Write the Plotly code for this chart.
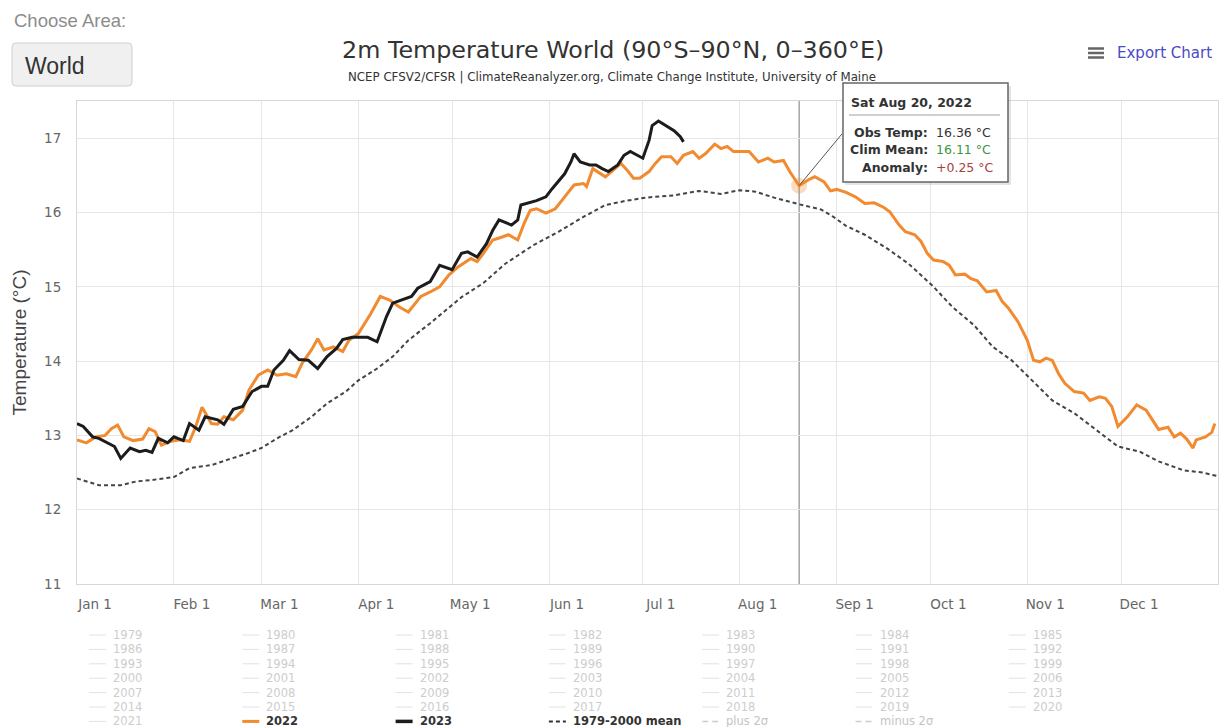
import plotly.graph_objects as go

# ---------------- data ----------------
month_ticks = [0, 31, 59, 90, 120, 151, 181, 212, 243, 273, 304, 334]
month_labels = ["Jan 1", "Feb 1", "Mar 1", "Apr 1", "May 1", "Jun 1",
                "Jul 1", "Aug 1", "Sep 1", "Oct 1", "Nov 1", "Dec 1"]
temp_ticks = [11, 12, 13, 14, 15, 16, 17]

days_2022 = [0, 3, 6, 9, 11, 13, 15, 18, 21, 23, 25, 27, 30, 33, 36, 38, 40, 43, 45, 47,
             50, 53, 55, 58, 61, 64, 67, 70, 72, 75, 77, 79, 82, 85, 87, 90, 94, 97, 100, 103,
             106, 110, 113, 116, 119, 122, 126, 128, 130, 133, 136, 138, 141, 143, 145, 147, 150, 153, 156, 159,
             162, 163, 165, 167, 169, 171, 174, 176, 178, 180, 183, 185, 187, 190, 192, 194, 197, 199, 201, 204,
             206, 208, 210, 212, 215, 218, 221, 223, 226, 228, 231, 234, 236, 239, 241, 243, 246, 249, 252, 255,
             258, 260, 263, 265, 268, 270, 272, 274, 277, 279, 281, 284, 286, 288, 291, 294, 296, 298, 301, 304,
             306, 308, 310, 312, 314, 316, 319, 322, 324, 327, 329, 331, 333, 336, 339, 342, 344, 346, 349, 351,
             353, 355, 357, 358, 361, 363, 364]
temp_2022 = [12.94, 12.90, 12.98, 13.00, 13.09, 13.14, 12.98, 12.93, 12.95, 13.09, 13.05, 12.87, 12.92, 12.94, 12.92, 13.12, 13.38, 13.16, 13.15, 13.25,
             13.21, 13.34, 13.61, 13.81, 13.88, 13.81, 13.83, 13.79, 13.97, 14.15, 14.30, 14.15, 14.19, 14.13, 14.28, 14.37, 14.64, 14.87, 14.82, 14.73,
             14.66, 14.87, 14.93, 15.00, 15.16, 15.27, 15.38, 15.34, 15.45, 15.63, 15.67, 15.70, 15.63, 15.85, 16.03, 16.05, 15.99, 16.05, 16.21, 16.37,
             16.39, 16.35, 16.59, 16.53, 16.48, 16.55, 16.66, 16.57, 16.46, 16.46, 16.55, 16.66, 16.75, 16.75, 16.66, 16.77, 16.82, 16.73, 16.79, 16.92,
             16.86, 16.89, 16.82, 16.82, 16.82, 16.68, 16.73, 16.68, 16.70, 16.55, 16.36, 16.44, 16.48, 16.41, 16.29, 16.31, 16.27, 16.21, 16.12, 16.13,
             16.07, 16.01, 15.83, 15.74, 15.70, 15.61, 15.45, 15.36, 15.34, 15.29, 15.16, 15.17, 15.11, 15.08, 14.93, 14.95, 14.80, 14.71, 14.53, 14.28,
             14.01, 13.99, 14.04, 14.01, 13.83, 13.70, 13.59, 13.57, 13.47, 13.52, 13.50, 13.39, 13.12, 13.25, 13.41, 13.34, 13.21, 13.08, 13.11, 12.98,
             13.03, 12.95, 12.83, 12.94, 12.98, 13.04, 13.16]

days_2023 = [0, 2, 5, 7, 12, 14, 17, 20, 22, 24, 26, 29, 31, 34, 36, 39, 41, 45, 47, 50,
             53, 56, 59, 61, 63, 66, 68, 71, 74, 77, 80, 83, 85, 88, 91, 93, 96, 99, 101, 104,
             107, 109, 113, 116, 120, 123, 125, 128, 131, 133, 135, 139, 141, 142, 144, 147, 150, 152, 156, 158,
             159, 161, 164, 166, 168, 170, 173, 175, 177, 179, 181, 183, 184, 186, 189, 191, 193, 194]
temp_2023 = [13.16, 13.12, 12.98, 12.96, 12.85, 12.69, 12.83, 12.78, 12.80, 12.77, 12.96, 12.90, 12.98, 12.93, 13.16, 13.07, 13.25, 13.21, 13.15, 13.35,
             13.39, 13.59, 13.66, 13.66, 13.88, 14.01, 14.14, 14.02, 14.01, 13.90, 14.06, 14.17, 14.29, 14.32, 14.32, 14.32, 14.26, 14.60, 14.78, 14.82,
             14.87, 14.98, 15.07, 15.29, 15.23, 15.45, 15.47, 15.40, 15.58, 15.76, 15.90, 15.83, 15.90, 16.10, 16.12, 16.16, 16.21, 16.32, 16.52, 16.68,
             16.79, 16.68, 16.64, 16.64, 16.59, 16.55, 16.64, 16.77, 16.82, 16.77, 16.73, 16.97, 17.17, 17.23, 17.15, 17.10, 17.02, 16.95]

days_mean = [0, 7, 14, 19, 24, 31, 36, 43, 48, 54, 59, 64, 69, 75, 80, 86, 90, 96, 101, 106,
             113, 118, 123, 130, 137, 146, 154, 162, 169, 176, 182, 191, 199, 206, 212, 217, 223, 231, 238, 242,
             246, 252, 259, 266, 274, 280, 287, 293, 299, 306, 312, 319, 326, 333, 340, 346, 354, 360, 365]
temp_mean = [12.42, 12.33, 12.33, 12.38, 12.40, 12.44, 12.56, 12.60, 12.67, 12.75, 12.83, 12.96, 13.07, 13.25, 13.43, 13.59, 13.74, 13.90, 14.06, 14.28,
             14.51, 14.68, 14.86, 15.05, 15.31, 15.56, 15.74, 15.94, 16.10, 16.16, 16.20, 16.23, 16.29, 16.25, 16.30, 16.28, 16.20, 16.11, 16.04, 15.94,
             15.82, 15.70, 15.52, 15.31, 15.00, 14.73, 14.48, 14.19, 14.01, 13.72, 13.47, 13.30, 13.07, 12.85, 12.78, 12.65, 12.53, 12.50, 12.45]

hover_day = 231
hover_label = "Sat Aug 20, 2022"
hover_obs = 16.36
hover_clim = 16.11

legend_labels = [str(y) for y in range(1979, 2022)] + ["2022", "2023", "1979-2000 mean", "plus 2σ", "minus 2σ"]

# ---------------- layout helpers ----------------
W, H = 1223, 727
L, R, T, B = 77, 5, 101, 143
PW = W - L - R
PH = H - T - B


def fx(px):
    return (px - L) / PW


def fy(py):
    return (H - B - py) / PH


ORANGE = "#F28A30"
BLACK = "#1c1c1c"
SANS = "DejaVu Sans"
ARIAL = "Liberation Sans"

annotations = []
shapes = []


def text(x, y, s, size, color, xanchor="left", family=SANS, yanchor="middle"):
    annotations.append(dict(x=fx(x), y=fy(y), xref="paper", yref="paper", text=s, showarrow=False,
                            xanchor=xanchor, yanchor=yanchor,
                            font=dict(size=size, color=color, family=family)))


def hline(x0, x1, y, color, width, dash="solid", layer="above"):
    shapes.append(dict(type="line", xref="paper", yref="paper", x0=fx(x0), x1=fx(x1), y0=fy(y), y1=fy(y),
                       line=dict(color=color, width=width, dash=dash), layer=layer))


# ---------------- traces ----------------
fig = go.Figure()
fig.add_trace(go.Scatter(x=days_mean, y=temp_mean, mode="lines", name="1979-2000 mean",
                         line=dict(color="#444444", width=2, dash="4px,3px"), showlegend=False))
fig.add_trace(go.Scatter(x=days_2022, y=temp_2022, mode="lines", name="2022",
                         line=dict(color=ORANGE, width=3), showlegend=False))
fig.add_trace(go.Scatter(x=days_2023, y=temp_2023, mode="lines", name="2023",
                         line=dict(color=BLACK, width=3), showlegend=False))
fig.add_trace(go.Scatter(x=[hover_day], y=[hover_obs], mode="markers",
                         marker=dict(size=16, color="rgba(242,138,48,0.3)"), showlegend=False, hoverinfo="skip"))

# crosshair
shapes.append(dict(type="line", xref="x", yref="paper", x0=hover_day, x1=hover_day, y0=0, y1=1,
                   line=dict(color="#777777", width=1), layer="between"))

# ---------------- header texts ----------------
text(12, 20, "Choose Area:", 18.5, "#8c8c8c", family=ARIAL)
r = 4
bx0, bx1, by0, by1 = 12, 132, 43, 86
path = (f"M {fx(bx0 + r)},{fy(by0)} L {fx(bx1 - r)},{fy(by0)} Q {fx(bx1)},{fy(by0)} {fx(bx1)},{fy(by0 + r)} "
        f"L {fx(bx1)},{fy(by1 - r)} Q {fx(bx1)},{fy(by1)} {fx(bx1 - r)},{fy(by1)} "
        f"L {fx(bx0 + r)},{fy(by1)} Q {fx(bx0)},{fy(by1)} {fx(bx0)},{fy(by1 - r)} "
        f"L {fx(bx0)},{fy(by0 + r)} Q {fx(bx0)},{fy(by0)} {fx(bx0 + r)},{fy(by0)} Z")
shapes.append(dict(type="path", xref="paper", yref="paper", path=path, fillcolor="#f0f0f0",
                   line=dict(color="#cfcfcf", width=1), layer="above"))
text(23, 66, "World", 23, "#333333", family=ARIAL)

text(613, 50, "2m Temperature World (90°S–90°N, 0–360°E)", 23.8, "#333333", xanchor="center")
text(612, 77, "NCEP CFSV2/CFSR | ClimateReanalyzer.org, Climate Change Institute, University of Maine",
     11.8, "#333333", xanchor="center")

for yy in (48.5, 53, 57.5):
    hline(1088, 1104, yy, "#666666", 2.5)
text(1115, 53, "Export Chart", 15, "#4a4ac4")

# ---------------- tooltip ----------------
shapes.append(dict(type="line", xref="x", yref="y", xsizemode="pixel", ysizemode="pixel",
                   xanchor=hover_day, yanchor=hover_obs, x0=0, y0=0, x1=43, y1=52,
                   line=dict(color="#555555", width=1), layer="above"))
shapes.append(dict(type="rect", xref="paper", yref="paper", x0=fx(845), x1=fx(1011), y0=fy(86), y1=fy(185),
                   fillcolor="rgba(0,0,0,0.10)", line=dict(width=0), layer="above"))
shapes.append(dict(type="rect", xref="paper", yref="paper", x0=fx(843), x1=fx(1008), y0=fy(83), y1=fy(182),
                   fillcolor="rgba(255,255,255,0.97)", line=dict(color="#666666", width=1.5), layer="above"))
text(849, 102, f"<b>{hover_label}</b>", 12.5, "#333333")
hline(849, 1000, 115, "#a0a0a0", 1)
anom = hover_obs - hover_clim
rows = [("Obs Temp:", f"{hover_obs:.2f} °C", "#333333"),
        ("Clim Mean:", f"{hover_clim:.2f} °C", "#3c963c"),
        ("Anomaly:", f"{anom:+.2f} °C", "#a84040")]
for k, (lab, val, col) in enumerate(rows):
    yy = 132 + k * 17.8
    text(930, yy, f"<b>{lab}</b>", 12.5, "#333333", xanchor="right")
    text(934, yy, val, 12.5, col)

# ---------------- legend (drawn manually as grid) ----------------
for i, lab in enumerate(legend_labels):
    col, row = i % 7, i // 7
    lx = 89 + col * 153.3
    ly = 635 + row * 14.4
    if lab == "2022":
        lc, lw, ld, tc, s = ORANGE, 3, "solid", "#333333", f"<b>{lab}</b>"
    elif lab == "2023":
        lc, lw, ld, tc, s = BLACK, 3.5, "solid", "#333333", f"<b>{lab}</b>"
    elif lab == "1979-2000 mean":
        lc, lw, ld, tc, s = "#333333", 2, "4px,3px", "#333333", f"<b>{lab}</b>"
    elif lab in ("plus 2σ", "minus 2σ"):
        lc, lw, ld, tc, s = "#cccccc", 1.5, "6px,4px", "#c4c4c4", lab
    else:
        lc, lw, ld, tc, s = "#e2e2e2", 1, "solid", "#cdcdcd", lab
    hline(lx, lx + 17, ly, lc, lw, ld)
    text(lx + 22, ly, s, 11.5, tc)

# ---------------- layout ----------------
fig.update_layout(
    width=W, height=H,
    margin=dict(l=L, r=R, t=T, b=B, pad=0, autoexpand=False),
    paper_bgcolor="white", plot_bgcolor="white",
    font=dict(family=SANS, color="#333333"),
    showlegend=False,
    annotations=annotations,
    shapes=shapes,
    xaxis=dict(range=[0, 365], tickmode="array", tickvals=month_ticks, ticktext=month_labels,
               showgrid=True, gridcolor="#e6e6e6", gridwidth=1, zeroline=False,
               showline=True, linecolor="#d8d8d8", linewidth=1, mirror=True,
               ticks="", tickfont=dict(size=13.5, color="#666666"),
               ticklabelshift=18, ticklabelstandoff=8, automargin=False, fixedrange=True),
    yaxis=dict(range=[11, 17.5], tickmode="array", tickvals=temp_ticks,
               showgrid=True, gridcolor="#e6e6e6", gridwidth=1, zeroline=False,
               showline=True, linecolor="#d8d8d8", linewidth=1, mirror=True,
               ticks="", tickfont=dict(size=13.5, color="#666666"), ticklabelstandoff=12,
               title=dict(text="Temperature (°C)", font=dict(family=ARIAL, size=19, color="#444444"), standoff=12),
               automargin=False, fixedrange=True),
)

fig.write_html("out.html", config={"displayModeBar": False},
               post_script="document.body.style.margin='0';document.body.style.overflow='hidden';")
